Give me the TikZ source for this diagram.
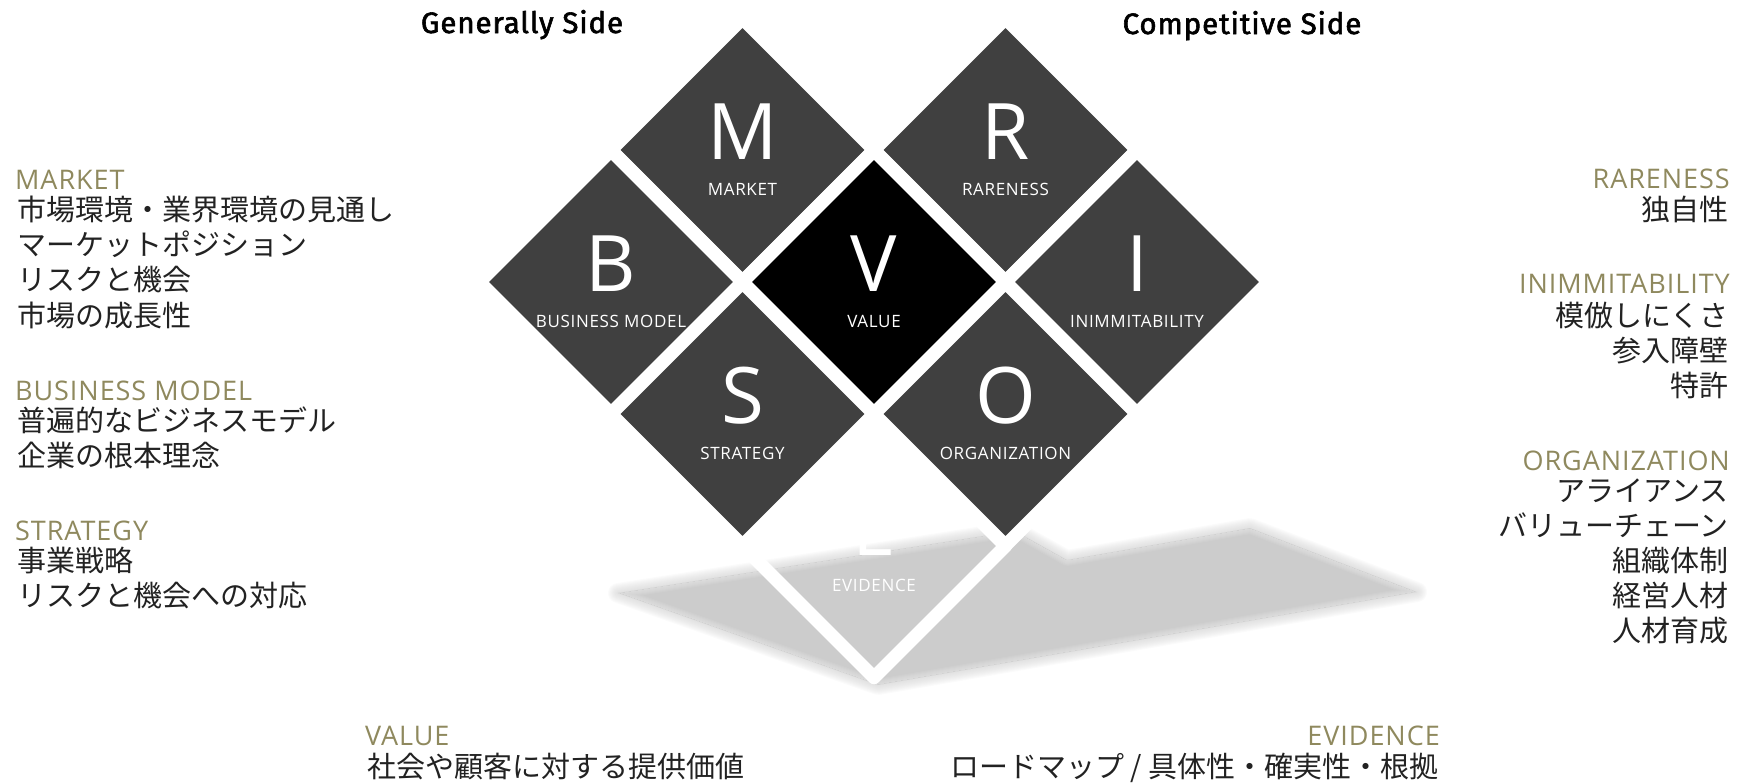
\documentclass[tikz,border=0pt]{standalone}
\usepackage{fontspec}
\setmainfont{Open Sans}
\newfontfamily\jpf{Noto Sans CJK JP}
\newfontfamily\headf{Open Sans}[LetterSpace=3.5]
\newfontfamily\labf{Open Sans}[LetterSpace=4.0]
\newfontfamily\titf{Fira Sans}[LetterSpace=3.0, FakeBold=2.0]
\usetikzlibrary{shapes.geometric}
\definecolor{hdcol}{HTML}{8F895E}
\definecolor{dgray}{HTML}{404040}
\definecolor{shad}{HTML}{CCCCCC}
\definecolor{jtext}{HTML}{222222}
\tikzset{
 dia/.style={shape=diamond, aspect=1, minimum width=263pt, minimum height=263pt, inner sep=0pt, outer sep=0pt, draw=white, line width=13.4pt, line join=round},
 bigl/.style={anchor=base, text=white, font=\fontsize{78}{78}\selectfont, inner sep=0pt},
 labl/.style={anchor=base, text=white, font=\labf\fontsize{17}{17}\selectfont, inner sep=0pt},
 hd/.style={text=hdcol, font=\headf\fontsize{27}{27}\selectfont, inner sep=0pt},
 jp/.style={text=jtext, font=\jpf\fontsize{29}{29}\selectfont, inner sep=0pt},
 ttl/.style={anchor=base, font=\titf\fontsize{29.5}{29.5}\selectfont, inner sep=0pt},
 lw/.style={anchor=base west},
 le/.style={anchor=base east},
}
\begin{document}
\begin{tikzpicture}[x=1pt,y=-1pt]
\useasboundingbox (0,0) rectangle (1745,782);
% shadow
\coordinate (s1) at (618,593);
\coordinate (s2) at (1015,531);
\coordinate (s3) at (1067,560);
\coordinate (s4) at (1250,528);
\coordinate (s5) at (1417,592);
\coordinate (s6) at (878,685);
\def\shpath{(s1) -- (s2) -- (s3) -- (s4) -- (s5) -- (s6) -- cycle}
\begin{scope}
  \clip \shpath;
  \fill[shad] \shpath;
  \foreach \w in {2,4,...,12}{
    \draw[white, line width=\w pt, opacity=0.07, line join=round] \shpath;
  }
\end{scope}
\begin{scope}[even odd rule]
  \clip (0,0) rectangle (1745,782) \shpath;
  \foreach \w in {2,4,...,20}{
    \draw[shad, line width=\w pt, opacity=0.08, line join=round] \shpath;
  }
\end{scope}
% diamonds
\node[dia, fill=none] (E) at (874,546) {};
\node[dia, fill=dgray] (M) at (742.5,150) {};
\node[dia, fill=dgray] (R) at (1005.5,150) {};
\node[dia, fill=dgray] (B) at (611,282) {};
\node[dia, fill=black] (V) at (874,282) {};
\node[dia, fill=dgray] (I) at (1137,282) {};
\node[dia, fill=dgray] (S) at (742.5,414) {};
\node[dia, fill=dgray] (O) at (1005.5,414) {};
% letters and labels
\foreach \n/\l/\t in {M/M/MARKET, R/R/RARENESS, B/B/BUSINESS MODEL, V/V/VALUE, I/I/INIMMITABILITY, S/S/STRATEGY, O/O/ORGANIZATION, E/E/EVIDENCE}{
  \node[bigl] (\n let) at ([yshift=-9pt]\n.center) {\l};
  \node[labl] (\n lab) at ([yshift=-45pt]\n.center) {\t};
}
% titles
\node[ttl] (t1) at (522,33) {Generally Side};
\node[ttl] (t2) at (1242,34) {Competitive Side};
% left texts
\node[hd, lw] (hM) at (15,189) {MARKET};
\node[jp, lw] (m1) at (17,220) {市場環境・業界環境の見通し};
\node[jp, lw] (m2) at (17,255.3) {マーケットポジション};
\node[jp, lw] (m3) at (17,290.6) {リスクと機会};
\node[jp, lw] (m4) at (17,326) {市場の成長性};
\node[hd, lw] (hB) at (15,400) {BUSINESS MODEL};
\node[jp, lw] (b1) at (17,431) {普遍的なビジネスモデル};
\node[jp, lw] (b2) at (17,466) {企業の根本理念};
\node[hd, lw] (hS) at (15,540.5) {STRATEGY};
\node[jp, lw] (st1) at (17,571) {事業戦略};
\node[jp, lw] (st2) at (17,606) {リスクと機会への対応};
% right texts
\node[hd, le] (hR) at (1730,188) {RARENESS};
\node[jp, le] (r1) at (1729,220) {独自性};
\node[hd, le] (hI) at (1730,293) {INIMMITABILITY};
\node[jp, le] (i1) at (1729,326) {模倣しにくさ};
\node[jp, le] (i2) at (1729,361) {参入障壁};
\node[jp, le] (i3) at (1729,396) {特許};
\node[hd, le] (hO) at (1730,470) {ORGANIZATION};
\node[jp, le] (o1) at (1729,501) {アライアンス};
\node[jp, le] (o2) at (1729,536) {バリューチェーン};
\node[jp, le] (o3) at (1729,571) {組織体制};
\node[jp, le] (o4) at (1729,606) {経営人材};
\node[jp, le] (o5) at (1729,641) {人材育成};
% bottom texts
\node[hd, lw] (hV) at (365,745) {VALUE};
\node[jp, lw] (v1) at (367,777) {社会や顧客に対する提供価値};
\node[hd, le] (hE) at (1440,745) {EVIDENCE};
\node[jp, le] (e1) at (1439,777) {ロードマップ / 具体性・確実性・根拠};
\end{tikzpicture}
\end{document}
